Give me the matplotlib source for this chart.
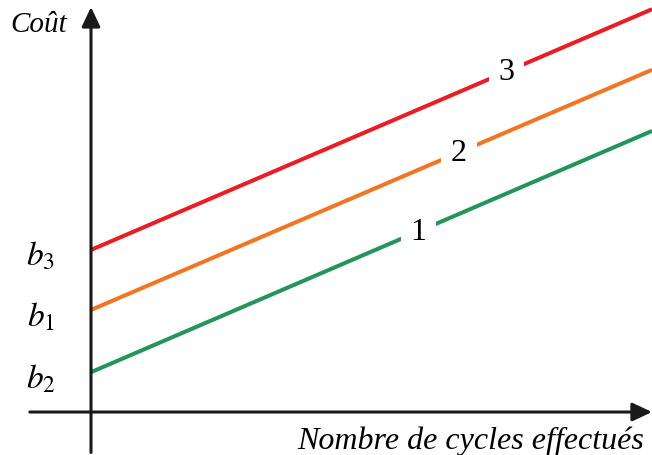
import matplotlib.pyplot as plt

plt.rcParams['mathtext.fontset'] = 'stix'

# -------- Data --------
cycles = [0, 10]
cost_1 = [0.71, 5.01]   # green, starts at b2
cost_2 = [1.82, 6.10]   # orange, starts at b1
cost_3 = [2.89, 7.18]   # red, starts at b3

series_names = ['1', '2', '3']
label_x = [5.84, 6.56, 7.40]
intercept_labels = ['$b_3$', '$b_1$', '$b_2$']
intercept_values = [2.89, 1.82, 0.71]

colors = ['#23955A', '#F37421', '#EC1C24']

x_title = 'Nombre de cycles effectués'
y_title = 'Coût'

# -------- Plot --------
fig = plt.figure(figsize=(6.52, 4.56), dpi=100)
ax = fig.add_axes([0, 0, 1, 1])
ax.set_xlim(-1.622, 10.0)
ax.set_ylim(-0.766, 7.362)
ax.axis('off')

for values, name, lx, c in zip([cost_1, cost_2, cost_3], series_names, label_x, colors):
    ax.plot(cycles, values, color=c, lw=2.9, solid_capstyle='butt', zorder=2)
    slope = (values[1] - values[0]) / (cycles[1] - cycles[0])
    ly = values[0] + slope * lx
    ax.text(lx, ly, name, fontsize=23, family='Liberation Serif', ha='center', va='center',
            bbox=dict(facecolor='white', edgecolor='none', pad=7), zorder=3)

# axes arrows
arrow = dict(arrowstyle='-|>,head_length=0.85,head_width=0.4', color='#1a1a1a', lw=2.2,
             shrinkA=0, shrinkB=0, mutation_scale=14)
ax.annotate('', xy=(0, 7.22), xytext=(0, -0.72), arrowprops=arrow, zorder=4,
            annotation_clip=False)
ax.annotate('', xy=(10.0, 0), xytext=(-1.09, 0), arrowprops=arrow, zorder=4,
            annotation_clip=False)

for lab, v in zip(intercept_labels, intercept_values):
    ax.text(-0.9, v - 0.1, lab, fontsize=24, ha='center', va='center')

ax.text(-0.93, 6.92, y_title, fontsize=21, family='Liberation Serif', style='italic',
        ha='center', va='center')
ax.text(6.76, -0.5, x_title, fontsize=23, family='Liberation Serif', style='italic',
        ha='center', va='center')

fig.savefig('out.png', dpi=100)
